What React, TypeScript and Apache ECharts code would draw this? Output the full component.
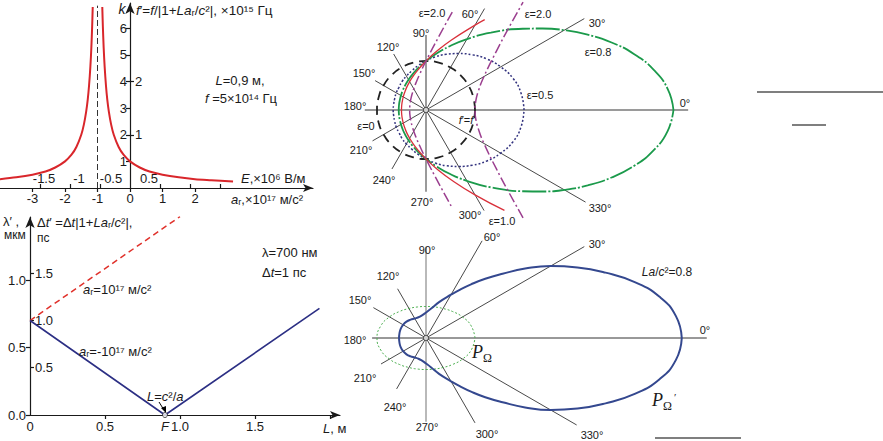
import React, { useEffect, useRef } from "react";
import * as echarts from "echarts";

// ---------- Panel 1 (top-left): k = f'/f versus a_r ----------
const A1_LEFT = [-4.0, -3.5, -3.0, -2.6, -2.3, -2.0, -1.8, -1.65, -1.5, -1.42, -1.35, -1.3, -1.26, -1.22, -1.19, -1.165, -1.147];
const K1_LEFT = [0.33, 0.4, 0.5, 0.62, 0.77, 1.0, 1.25, 1.54, 2.0, 2.38, 2.86, 3.33, 3.85, 4.55, 5.26, 6.06, 6.8];
const A1_RIGHT = [-0.853, -0.835, -0.81, -0.78, -0.74, -0.7, -0.65, -0.58, -0.5, -0.35, -0.2, 0, 0.3, 0.6, 1.0, 1.5, 2.0, 2.5, 3.17];
const K1_RIGHT = [6.8, 6.06, 5.26, 4.55, 3.85, 3.33, 2.86, 2.38, 2.0, 1.54, 1.25, 1.0, 0.77, 0.62, 0.5, 0.4, 0.33, 0.29, 0.24];
const POLE_A = [-1, -1];
const POLE_K = [0, 6.85];
const A_TICKS = [-3, -2, -1, 0, 1, 2];
const K_TICKS = [1, 2, 3, 4, 5, 6];
const F_TICKS = [1, 2];
const E_TICKS = [-1.5, -1, -0.5, 0.5, 1, 1.5];
const E_LABELS = [-1.5, -1, -0.5, 0.5];

// ---------- Panel 2 (bottom-left): lambda' versus L ----------
const L_NEG = [0, 0.9, 1.93];
const LAM_NEG = [0.7, 0, 0.79];
const L_POS = [0, 1.0];
const LAM_POS = [0.7, 1.47];
const FOCUS = [[0.9, 0]];
const L_TICKS = [0.5, 1, 1.5, 2];
const L_LABELS = [0, 0.5, 0.9, 1, 1.5];
const LAM_TICKS = [0, 0.5, 1];
const DT_TICKS = [0.5, 1, 1.5];

// ---------- Panel 3 (top-right): f' polar curves, radius in units of f ----------
const ANG_E0 = [0, 15, 30, 45, 60, 75, 90, 105, 120, 135, 150, 165, 180];
const R_E0 = [1, 1, 1, 1, 1, 1, 1, 1, 1, 1, 1, 1, 1];
const ANG_E05 = [0, 10, 20, 30, 40, 50, 60, 70, 80, 90, 100, 110, 120, 130, 140, 150, 160, 170, 180];
const R_E05 = [2.0, 1.97, 1.89, 1.76, 1.62, 1.47, 1.33, 1.21, 1.1, 1.0, 0.92, 0.85, 0.8, 0.76, 0.72, 0.7, 0.68, 0.67, 0.67];
const ANG_E08 = [0, 5, 10, 15, 20, 25, 30, 35, 40, 50, 60, 70, 80, 90, 100, 110, 120, 130, 140, 150, 160, 170, 180];
const R_E08 = [5.05, 4.95, 4.72, 4.4, 4.03, 3.64, 3.26, 2.9, 2.58, 2.06, 1.67, 1.38, 1.16, 1.0, 0.88, 0.785, 0.714, 0.66, 0.62, 0.59, 0.57, 0.56, 0.556];
const ANG_E1 = [57, 60, 70, 80, 90, 100, 110, 120, 130, 140, 150, 160, 170, 180, 190, 200, 210, 220, 230, 240, 250, 260, 270, 280, 290, 300, 308];
const R_E1 = [2.2, 2.0, 1.52, 1.21, 1.0, 0.85, 0.745, 0.667, 0.61, 0.566, 0.536, 0.515, 0.504, 0.5, 0.504, 0.515, 0.536, 0.566, 0.61, 0.667, 0.745, 0.85, 1.0, 1.21, 1.52, 2.0, 2.6];
const ANG_E2_IN = [75, 80, 90, 100, 110, 120, 130, 140, 150, 160, 170, 180];
const R_E2_IN = [2.07, 1.53, 1.0, 0.742, 0.594, 0.5, 0.437, 0.395, 0.366, 0.347, 0.337, 0.333];
const ANG_E2_OUT = [312, 315, 320, 330, 340, 350, 0, 10, 20, 30, 40, 45, 48];
const R_E2_OUT = [2.96, 2.41, 1.88, 1.366, 1.138, 1.031, 1.0, 1.031, 1.138, 1.366, 1.88, 2.41, 2.96];
const SPOKE_ANG = [0, 90, 30, 60, 120, 150];
const SPOKE3_A = [5.35, 1.53, 3.73, 2.39, 1.32, 1.2];
const SPOKE3_B = [1.25, 1.67, 1.26, 1.39, 2.37, 3.76];

// ---------- Panel 4 (bottom-right): P_Omega' and P_Omega ----------
const ANG_PW = [0, 5, 10, 15, 20, 25, 30, 35, 40, 45, 50, 55, 60, 70, 80, 90, 100, 110, 120, 130, 140, 150, 160, 170, 180];
const R_PW = [5.22, 5.12, 4.84, 4.41, 3.9, 3.41, 2.94, 2.47, 2.04, 1.71, 1.43, 1.2, 1.02, 0.78, 0.61, 0.52, 0.47, 0.45, 0.46, 0.49, 0.52, 0.54, 0.55, 0.55, 0.55];
const ANG_PO = [0, 15, 30, 45, 60, 75, 90, 105, 120, 135, 150, 165, 180];
const R_PO = [1.0, 0.955, 0.86, 0.765, 0.695, 0.656, 0.643, 0.656, 0.695, 0.765, 0.86, 0.955, 1.0];
const SPOKE4_A = [5.73, 1.86, 3.73, 2.29, 1.16, 1.24];
const SPOKE4_B = [1.1, 1.71, 1.06, 1.2, 2.0, 3.55];

const SANS = "'Liberation Sans', Arial, Helvetica, sans-serif";
const SERIF = "'Liberation Serif', 'Times New Roman', serif";
const INK = "#1a1a1a";

const zip = (xs: number[], ys: number[]) => xs.map((x, i) => [x, ys[i]]);
// upper half given (angle ascending), lower half mirrored about the 0-180 line
const symPolar = (angs: number[], rs: number[]) => {
  const upper = angs.map((a, i) => [rs[i], a]);
  const lower = angs
    .slice(0, -1)
    .map((a, i) => [rs[i], 360 - a])
    .reverse();
  return [...upper, ...lower];
};
const polarPts = (angs: number[], rs: number[]) => angs.map((a, i) => [rs[i], a]);

function buildOption() {
  const italic = { fontStyle: "italic", fontFamily: SANS, color: INK };
  const txt = (x: number, y: number, text: string, o: any = {}) => {
    const size = o.size ?? 11;
    const align = o.align ?? "center";
    return {
      type: "text",
      x,
      y,
      silent: true,
      z: 100,
      style: {
        text,
        fill: INK,
        fontSize: size,
        fontFamily: o.family ?? SANS,
        fontStyle: o.italic ? "italic" : "normal",
        align,
        verticalAlign: "middle",
        textAlign: align,
        textVerticalAlign: "middle",
        rich: {
          i: { fontStyle: "italic", fontSize: size, fontFamily: SANS, fill: INK },
          P: { fontStyle: "italic", fontSize: 18, fontFamily: SERIF, fill: INK, lineHeight: 18, verticalAlign: "top" },
          O: { fontSize: 12, fontFamily: SERIF, fill: INK, lineHeight: 12, padding: [9, 0, 0, 0], verticalAlign: "top" },
          S: { fontSize: 11, fontFamily: SERIF, fill: INK, lineHeight: 11, padding: [0, 0, 0, 2], verticalAlign: "top" },
        },
      },
    };
  };
  const hline = (x1: number, y1: number, x2: number, y2: number, w = 1) => ({
    type: "line",
    silent: true,
    shape: { x1, y1, x2, y2 },
    style: { stroke: "#000", lineWidth: w },
  });

  const axisLbl = { color: INK, fontSize: 13, fontFamily: SANS };
  const inkLine = { color: INK, width: 1.2 };

  const spokeSeries = (polarIndex: number, lenA: number[], lenB: number[], greyAxes: boolean) =>
    SPOKE_ANG.map((ang, i) => {
      const isAxis = i < 2;
      let color = "#1a1a1a";
      let width = 0.8;
      if (isAxis && greyAxes) {
        color = "#9a9a9a";
        width = 2;
      } else if (isAxis && i === 1) {
        color = "#8a8a8a";
        width = 1.2;
      } else if (isAxis) {
        color = "#333";
        width = 1;
      }
      return {
        type: "line",
        coordinateSystem: "polar",
        polarIndex,
        data: [
          [lenA[i], ang],
          [lenB[i], ang + 180],
        ],
        showSymbol: false,
        silent: true,
        z: 1,
        lineStyle: { color, width },
      };
    });

  const polarCurve = (polarIndex: number, data: number[][], color: string, width: number, type: any, z = 5) => ({
    type: "line",
    coordinateSystem: "polar",
    polarIndex,
    data,
    smooth: 0.5,
    showSymbol: false,
    silent: true,
    z,
    lineStyle: { color, width, type },
  });

  const centerDot = (polarIndex: number) => ({
    type: "scatter",
    coordinateSystem: "polar",
    polarIndex,
    data: [[0, 0]],
    symbol: "circle",
    symbolSize: 5,
    z: 10,
    silent: true,
    itemStyle: { color: "#fff", borderColor: "#333", borderWidth: 1 },
  });

  const eLabel = (v: number) => {
    const s = String(v);
    if (v === -1.5) return "{a|" + s + "}";
    if (v === -1) return "{b|" + s + "}";
    if (v === -0.5) return "{c|" + s + "}";
    return "{d|" + s + "}";
  };

  return {
    animation: false,
    backgroundColor: "#fff",
    textStyle: { fontFamily: SANS },
    grid: [
      { left: 0, top: 3, width: 313, height: 185, outerBoundsMode: "none" },
      { left: 30, top: 217, width: 310, height: 198, outerBoundsMode: "none" },
    ],
    xAxis: [
      {
        gridIndex: 0,
        type: "value",
        min: -4,
        max: 5.63,
        position: "bottom",
        axisLine: { onZero: false, symbol: ["none", "arrow"], symbolSize: [6, 10], lineStyle: inkLine },
        axisTick: { customValues: A_TICKS, length: 4, lineStyle: inkLine },
        axisLabel: { ...axisLbl, customValues: A_TICKS, margin: 4 },
        splitLine: { show: false },
      },
      {
        gridIndex: 0,
        type: "value",
        min: -2.1667,
        max: 3.05,
        position: "bottom",
        axisLine: { show: false, onZero: false },
        axisTick: { inside: true, customValues: E_TICKS, length: 4, lineStyle: inkLine },
        axisLabel: {
          ...axisLbl,
          inside: true,
          customValues: E_LABELS,
          margin: 3,
          formatter: eLabel,
          rich: {
            a: { ...axisLbl, padding: [0, 0, 0, 8] },
            b: { ...axisLbl, padding: [0, 0, 0, 18] },
            c: { ...axisLbl, padding: [0, 0, 0, 22] },
            d: { ...axisLbl, padding: [0, 22, 0, 0] },
          },
        },
        splitLine: { show: false },
      },
      {
        gridIndex: 1,
        type: "value",
        min: 0,
        max: 2.067,
        position: "bottom",
        axisLine: { onZero: false, symbol: ["none", "arrow"], symbolSize: [6, 10], lineStyle: inkLine },
        axisTick: { customValues: L_TICKS, length: 4, lineStyle: inkLine },
        axisLabel: {
          ...axisLbl,
          customValues: L_LABELS,
          margin: 5,
          formatter: (v: number) => (v === 0.9 ? "{i|F}" : v === 0 ? "0" : v.toFixed(1)),
          rich: { i: { ...italic, fontSize: 13 } },
        },
        splitLine: { show: false },
      },
    ],
    yAxis: [
      {
        gridIndex: 0,
        type: "value",
        min: 0,
        max: 6.95,
        position: "left",
        offset: -130,
        axisLine: { onZero: false, symbol: ["none", "arrow"], symbolSize: [7, 11], lineStyle: inkLine },
        axisTick: { customValues: K_TICKS, length: 4, lineStyle: inkLine },
        axisLabel: { ...axisLbl, customValues: K_TICKS, margin: 3 },
        splitLine: { show: false },
      },
      {
        gridIndex: 0,
        type: "value",
        min: 0,
        max: 3.475,
        position: "left",
        offset: -130,
        axisLine: { show: false, onZero: false },
        axisTick: { inside: true, customValues: F_TICKS, length: 4, lineStyle: inkLine },
        axisLabel: { ...axisLbl, inside: true, customValues: F_TICKS, margin: 5 },
        splitLine: { show: false },
      },
      {
        gridIndex: 1,
        type: "value",
        min: 0,
        max: 1.467,
        position: "left",
        axisLine: { onZero: false, symbol: ["none", "arrow"], symbolSize: [7, 11], lineStyle: inkLine },
        axisTick: { customValues: LAM_TICKS, length: 4, lineStyle: inkLine },
        axisLabel: { ...axisLbl, customValues: LAM_TICKS, margin: 4, formatter: (v: number) => v.toFixed(1) },
        splitLine: { show: false },
      },
      {
        gridIndex: 1,
        type: "value",
        min: 0,
        max: 2.095,
        position: "left",
        axisLine: { show: false, onZero: false },
        axisTick: { inside: true, customValues: DT_TICKS, length: 4, lineStyle: inkLine },
        axisLabel: { ...axisLbl, inside: true, customValues: DT_TICKS, margin: 5, formatter: (v: number) => v.toFixed(1) },
        splitLine: { show: false },
      },
    ],
    polar: [
      { center: [426, 110], radius: 294 },
      { center: [426, 338], radius: 294 },
    ],
    angleAxis: [
      { polarIndex: 0, type: "value", min: 0, max: 360, startAngle: 0, clockwise: false, show: false },
      { polarIndex: 1, type: "value", min: 0, max: 360, startAngle: 0, clockwise: false, show: false },
    ],
    radiusAxis: [
      { polarIndex: 0, type: "value", min: 0, max: 6, show: false },
      { polarIndex: 1, type: "value", min: 0, max: 6, show: false },
    ],
    series: [
      // panel 1
      {
        type: "line",
        xAxisIndex: 0,
        yAxisIndex: 0,
        data: zip(POLE_A, POLE_K),
        showSymbol: false,
        silent: true,
        lineStyle: { color: "#333", width: 1, type: [6, 3] },
      },
      {
        type: "line",
        xAxisIndex: 0,
        yAxisIndex: 0,
        data: zip(A1_LEFT, K1_LEFT),
        smooth: 0.3,
        showSymbol: false,
        silent: true,
        lineStyle: { color: "#d9262b", width: 2 },
      },
      {
        type: "line",
        xAxisIndex: 0,
        yAxisIndex: 0,
        data: zip(A1_RIGHT, K1_RIGHT),
        smooth: 0.3,
        showSymbol: false,
        silent: true,
        lineStyle: { color: "#d9262b", width: 2 },
      },
      // panel 2
      {
        type: "line",
        xAxisIndex: 2,
        yAxisIndex: 2,
        data: zip(L_POS, LAM_POS),
        showSymbol: false,
        silent: true,
        lineStyle: { color: "#e0312b", width: 1.5, type: [6, 4] },
      },
      {
        type: "line",
        xAxisIndex: 2,
        yAxisIndex: 2,
        data: zip(L_NEG, LAM_NEG),
        showSymbol: false,
        silent: true,
        lineStyle: { color: "#2c2f84", width: 1.6 },
      },
      {
        type: "scatter",
        xAxisIndex: 2,
        yAxisIndex: 2,
        data: FOCUS,
        symbol: "circle",
        symbolSize: 5,
        silent: true,
        z: 10,
        itemStyle: { color: "#fff", borderColor: "#222", borderWidth: 1 },
      },
      // panel 3
      ...spokeSeries(0, SPOKE3_A, SPOKE3_B, true),
      polarCurve(0, symPolar(ANG_E0, R_E0), "#222", 1.8, [9, 6]),
      polarCurve(0, symPolar(ANG_E05, R_E05), "#33337f", 1.5, [2, 2]),
      polarCurve(0, symPolar(ANG_E08, R_E08), "#1b9a4b", 1.8, [24, 2, 2, 2]),
      polarCurve(0, polarPts(ANG_E1, R_E1), "#d9303a", 1.3, "solid"),
      polarCurve(0, symPolar(ANG_E2_IN, R_E2_IN), "#9b3f8f", 1.5, [10, 3, 2, 3]),
      polarCurve(0, polarPts(ANG_E2_OUT, R_E2_OUT), "#9b3f8f", 1.5, [10, 3, 2, 3]),
      centerDot(0),
      // panel 4
      ...spokeSeries(1, SPOKE4_A, SPOKE4_B, false),
      polarCurve(1, symPolar(ANG_PO, R_PO), "#4caf50", 1, [2, 2]),
      polarCurve(1, symPolar(ANG_PW, R_PW), "#34488f", 2, "solid"),
      centerDot(1),
    ],
    graphic: [
      // panel 1 texts
      txt(122, 9, "k", { size: 14, italic: true }),
      txt(136, 10, "{i|f}′={i|f}/|1+{i|La}ᵣ/{i|c}²|, ×10¹⁵ Гц", { size: 13.5, align: "left" }),
      txt(240, 80, "{i|L}=0,9 м,", { size: 13 }),
      txt(241, 98, "{i|f} =5×10¹⁴ Гц", { size: 13 }),
      txt(241, 178, "{i|E},×10⁶ В/м", { size: 13, align: "left" }),
      txt(231, 199, "{i|a}ᵣ,×10¹⁷ м/с²", { size: 13, align: "left" }),
      // panel 2 texts
      txt(3, 221, "λ′ ,", { size: 13, align: "left" }),
      txt(4, 235, "мкм", { size: 12, align: "left" }),
      txt(37, 222, "Δ{i|t}′ =Δ{i|t}|1+{i|La}ᵣ/{i|c}²|,", { size: 13, align: "left" }),
      txt(37, 238, "пс", { size: 12, align: "left" }),
      txt(262, 252, "λ=700 нм", { size: 13, align: "left" }),
      txt(262, 272, "Δ{i|t}=1 пс", { size: 13, align: "left" }),
      txt(83, 289, "{i|a}ᵣ=10¹⁷ м/с²", { size: 13, align: "left" }),
      txt(79, 351, "{i|a}ᵣ=-10¹⁷ м/с²", { size: 13, align: "left" }),
      txt(147, 396, "{i|L}={i|c}²/{i|a}", { size: 13, align: "left" }),
      txt(323, 428, "{i|L}, м", { size: 13, align: "left" }),
      hline(159, 402, 164, 410, 1),
      { type: "polygon", silent: true, shape: { points: [[166, 413], [161, 408], [166, 406]] }, style: { fill: "#000" } },
      // panel 3 texts
      txt(432, 13, "ε=2.0"),
      txt(470, 14, "60°"),
      txt(538, 14, "ε=2.0"),
      txt(597, 23, "30°"),
      txt(421, 33, "90°"),
      txt(388, 47, "120°"),
      txt(598, 52, "ε=0.8"),
      txt(364, 73, "150°"),
      txt(540, 95, "ε=0.5"),
      txt(355, 106, "180°"),
      txt(685, 103, "0°"),
      txt(366, 126, "ε=0"),
      txt(466, 120, "{i|f}′={i|f}"),
      txt(361, 150, "210°"),
      txt(384, 180, "240°"),
      txt(422, 202, "270°"),
      txt(470, 215, "300°"),
      txt(600, 208, "330°"),
      txt(502, 221, "ε=1.0"),
      // panel 4 texts
      txt(427, 250, "90°"),
      txt(492, 237, "60°"),
      txt(597, 244, "30°"),
      txt(388, 276, "120°"),
      txt(360, 300, "150°"),
      txt(355, 340, "180°"),
      txt(705, 330, "0°"),
      txt(365, 378, "210°"),
      txt(395, 407, "240°"),
      txt(427, 427, "270°"),
      txt(487, 434, "300°"),
      txt(592, 435, "330°"),
      txt(667, 272, "{i|La}/{i|c}²=0.8", { size: 12 }),
      txt(472, 352, "{P|P}{O|Ω}", { align: "left" }),
      txt(652, 400, "{P|P}{O|Ω}{S|′}", { align: "left" }),
      // decorative rules at the right edge
      hline(757, 92, 883, 92, 1.2),
      hline(792, 125, 826, 125, 1.2),
      hline(655, 438, 741, 438, 1.2),
    ],
  };
}

export default function App() {
  const ref = useRef<HTMLDivElement>(null);
  useEffect(() => {
    if (!ref.current) return;
    const chart = echarts.init(ref.current, null, { renderer: "svg" });
    chart.setOption(buildOption() as any);
    return () => chart.dispose();
  }, []);
  return (
    <div
      ref={ref}
      style={{ position: "fixed", left: 0, top: 0, width: 883, height: 441, background: "#fff" }}
    />
  );
}
